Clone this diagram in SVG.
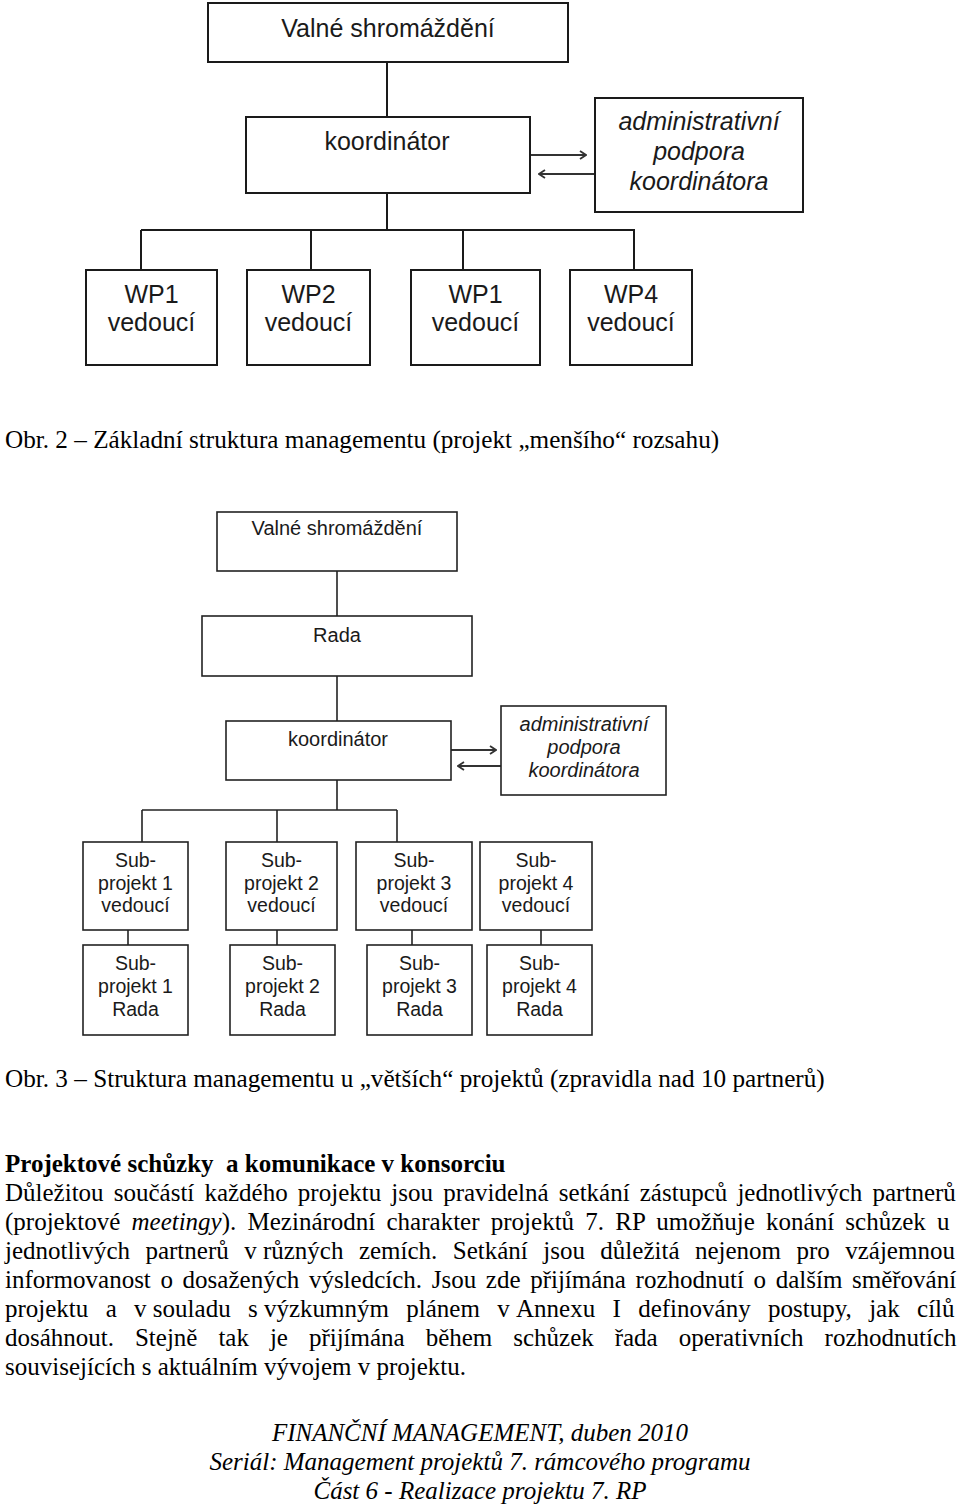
<svg xmlns="http://www.w3.org/2000/svg" width="960" height="1505" viewBox="0 0 960 1505">
<defs>
<style>
.box{fill:#fff;stroke:#1a1a1a;stroke-width:2}
.box2{fill:#fff;stroke:#222;stroke-width:1.6}
.ln{stroke:#1a1a1a;stroke-width:2;fill:none}
.ln2{stroke:#222;stroke-width:1.6;fill:none}
.ar{stroke:#333;stroke-width:2;fill:none}
.t1{font-family:"Liberation Sans",Arial,sans-serif;font-size:25px;fill:#1a1a1a;text-anchor:middle}
.t1i{font-family:"Liberation Sans",Arial,sans-serif;font-size:25px;font-style:italic;fill:#1a1a1a;text-anchor:middle}
.t2{font-family:"Liberation Sans",Arial,sans-serif;font-size:20px;fill:#1a1a1a;text-anchor:middle}
.t2i{font-family:"Liberation Sans",Arial,sans-serif;font-size:20px;font-style:italic;fill:#1a1a1a;text-anchor:middle}
.t3{font-family:"Liberation Sans",Arial,sans-serif;font-size:19.5px;fill:#1a1a1a;text-anchor:middle}
.cap{font-family:"Liberation Serif","Times New Roman",serif;font-size:25.2px;fill:#000}
.body{font-family:"Liberation Serif","Times New Roman",serif;font-size:25px;fill:#000}
.bold{font-family:"Liberation Serif","Times New Roman",serif;font-size:25px;font-weight:bold;fill:#000}
.foot{font-family:"Liberation Serif","Times New Roman",serif;font-size:25px;font-style:italic;fill:#000;text-anchor:middle}
.nb{word-spacing:0}
</style>
<marker id="ah" viewBox="0 0 8 10" refX="7" refY="5" markerWidth="8" markerHeight="10" markerUnits="userSpaceOnUse" orient="auto">
<path d="M1,1 L7,5 L1,9" fill="none" stroke="#333" stroke-width="1.8"/>
</marker>
</defs>

<!-- Diagram 1 -->
<g id="connectors1">
<line class="ln" x1="387" y1="62" x2="387" y2="117"/>
<line class="ln" x1="387" y1="193" x2="387" y2="230"/>
<line class="ln" x1="141" y1="230" x2="635" y2="230"/>
<line class="ln" x1="141" y1="230" x2="141" y2="270"/>
<line class="ln" x1="311" y1="230" x2="311" y2="270"/>
<line class="ln" x1="463" y1="230" x2="463" y2="270"/>
<line class="ln" x1="634" y1="230" x2="634" y2="270"/>
<line class="ar" x1="530" y1="155" x2="586" y2="155" marker-end="url(#ah)"/>
<line class="ar" x1="594" y1="174" x2="539" y2="174" marker-end="url(#ah)"/>
</g>
<g id="d1-valne"><rect class="box" x="208" y="3" width="360" height="59"/><text class="t1" x="388" y="37">Valné shromáždění</text></g>
<g id="d1-koordinator"><rect class="box" x="246" y="117" width="284" height="76"/><text class="t1" x="387" y="150">koordinátor</text></g>
<g id="d1-admin"><rect class="box" x="595" y="98" width="208" height="114"/><text class="t1i" x="699" y="130">administrativní</text><text class="t1i" x="699" y="160">podpora</text><text class="t1i" x="699" y="190">koordinátora</text></g>
<g id="d1-wp1"><rect class="box" x="86" y="270" width="131" height="95"/><text class="t1" x="151.5" y="303">WP1</text><text class="t1" x="151.5" y="331">vedoucí</text></g>
<g id="d1-wp2"><rect class="box" x="247" y="270" width="123" height="95"/><text class="t1" x="308.5" y="303">WP2</text><text class="t1" x="308.5" y="331">vedoucí</text></g>
<g id="d1-wp3"><rect class="box" x="411" y="270" width="129" height="95"/><text class="t1" x="475.5" y="303">WP1</text><text class="t1" x="475.5" y="331">vedoucí</text></g>
<g id="d1-wp4"><rect class="box" x="570" y="270" width="122" height="95"/><text class="t1" x="631" y="303">WP4</text><text class="t1" x="631" y="331">vedoucí</text></g>

<text class="cap" x="5" y="448">Obr. 2 – Základní struktura managementu (projekt „menšího“ rozsahu)</text>

<!-- Diagram 2 -->
<g id="connectors2">
<line class="ln2" x1="337" y1="571" x2="337" y2="616"/>
<line class="ln2" x1="337" y1="676" x2="337" y2="721"/>
<line class="ln2" x1="337" y1="780" x2="337" y2="810"/>
<line class="ln2" x1="142" y1="810" x2="397" y2="810"/>
<line class="ln2" x1="142" y1="810" x2="142" y2="842"/>
<line class="ln2" x1="277" y1="810" x2="277" y2="842"/>
<line class="ln2" x1="397" y1="810" x2="397" y2="842"/>
<line class="ln2" x1="128" y1="930" x2="128" y2="945"/>
<line class="ln2" x1="277" y1="930" x2="277" y2="945"/>
<line class="ln2" x1="412" y1="930" x2="412" y2="945"/>
<line class="ln2" x1="541" y1="930" x2="541" y2="945"/>
<line class="ar" x1="451" y1="750" x2="496" y2="750" marker-end="url(#ah)"/>
<line class="ar" x1="501" y1="766" x2="458" y2="766" marker-end="url(#ah)"/>
</g>
<g id="d2-valne"><rect class="box2" x="217" y="512" width="240" height="59"/><text class="t2" x="337" y="535">Valné shromáždění</text></g>
<g id="d2-rada"><rect class="box2" x="202" y="616" width="270" height="60"/><text class="t2" x="337" y="642">Rada</text></g>
<g id="d2-koordinator"><rect class="box2" x="226" y="721" width="225" height="59"/><text class="t2" x="338" y="746">koordinátor</text></g>
<g id="d2-admin"><rect class="box2" x="501" y="706" width="165" height="89"/><text class="t2i" x="584" y="731">administrativní</text><text class="t2i" x="584" y="754">podpora</text><text class="t2i" x="584" y="777">koordinátora</text></g>
<g id="d2-sub1v"><rect class="box2" x="83" y="842" width="105" height="88"/><text class="t3" x="135.5" y="867">Sub-</text><text class="t3" x="135.5" y="890">projekt 1</text><text class="t3" x="135.5" y="912">vedoucí</text></g>
<g id="d2-sub2v"><rect class="box2" x="226" y="842" width="111" height="88"/><text class="t3" x="281.5" y="867">Sub-</text><text class="t3" x="281.5" y="890">projekt 2</text><text class="t3" x="281.5" y="912">vedoucí</text></g>
<g id="d2-sub3v"><rect class="box2" x="356" y="842" width="116" height="88"/><text class="t3" x="414" y="867">Sub-</text><text class="t3" x="414" y="890">projekt 3</text><text class="t3" x="414" y="912">vedoucí</text></g>
<g id="d2-sub4v"><rect class="box2" x="480" y="842" width="112" height="88"/><text class="t3" x="536" y="867">Sub-</text><text class="t3" x="536" y="890">projekt 4</text><text class="t3" x="536" y="912">vedoucí</text></g>
<g id="d2-sub1r"><rect class="box2" x="83" y="945" width="105" height="90"/><text class="t3" x="135.5" y="970">Sub-</text><text class="t3" x="135.5" y="993">projekt 1</text><text class="t3" x="135.5" y="1016">Rada</text></g>
<g id="d2-sub2r"><rect class="box2" x="230" y="945" width="105" height="90"/><text class="t3" x="282.5" y="970">Sub-</text><text class="t3" x="282.5" y="993">projekt 2</text><text class="t3" x="282.5" y="1016">Rada</text></g>
<g id="d2-sub3r"><rect class="box2" x="367" y="945" width="105" height="90"/><text class="t3" x="419.5" y="970">Sub-</text><text class="t3" x="419.5" y="993">projekt 3</text><text class="t3" x="419.5" y="1016">Rada</text></g>
<g id="d2-sub4r"><rect class="box2" x="487" y="945" width="105" height="90"/><text class="t3" x="539.5" y="970">Sub-</text><text class="t3" x="539.5" y="993">projekt 4</text><text class="t3" x="539.5" y="1016">Rada</text></g>

<text class="cap" x="5" y="1087">Obr. 3 – Struktura managementu u „větších“ projektů (zpravidla nad 10 partnerů)</text>

<!-- Body text -->
<text class="bold" x="5" y="1172" xml:space="preserve">Projektové schůzky  a komunikace v konsorciu</text>
<text class="body" x="5" y="1201" style="word-spacing:3.9px">Důležitou součástí každého projektu jsou pravidelná setkání zástupců jednotlivých partnerů</text>
<text class="body" x="5" y="1230" style="word-spacing:5px">(projektové <tspan font-style="italic">meetingy</tspan>). Mezinárodní charakter projektů 7. RP umožňuje konání schůzek u</text>
<text class="body" x="5" y="1259" style="word-spacing:9.2px">jednotlivých partnerů <tspan class="nb">v&#160;různých</tspan> zemích. Setkání jsou důležitá nejenom pro vzájemnou</text>
<text class="body" x="5" y="1288" style="word-spacing:3.4px">informovanost o dosažených výsledcích. Jsou zde přijímána rozhodnutí o dalším směřování</text>
<text class="body" x="5" y="1317" style="word-spacing:11.1px">projektu a <tspan class="nb">v&#160;souladu</tspan> <tspan class="nb">s&#160;výzkumným</tspan> plánem <tspan class="nb">v&#160;Annexu</tspan> I definovány postupy, jak cílů</text>
<text class="body" x="5" y="1346" style="word-spacing:14.7px">dosáhnout. Stejně tak je přijímána během schůzek řada operativních rozhodnutích</text>
<text class="body" x="5" y="1375">souvisejících s aktuálním vývojem v projektu.</text>

<!-- Footer -->
<text class="foot" x="480" y="1441">FINANČNÍ MANAGEMENT, duben 2010</text>
<text class="foot" x="480" y="1470">Seriál: Management projektů 7. rámcového programu</text>
<text class="foot" x="480" y="1499">Část 6 - Realizace projektu 7. RP</text>
</svg>
